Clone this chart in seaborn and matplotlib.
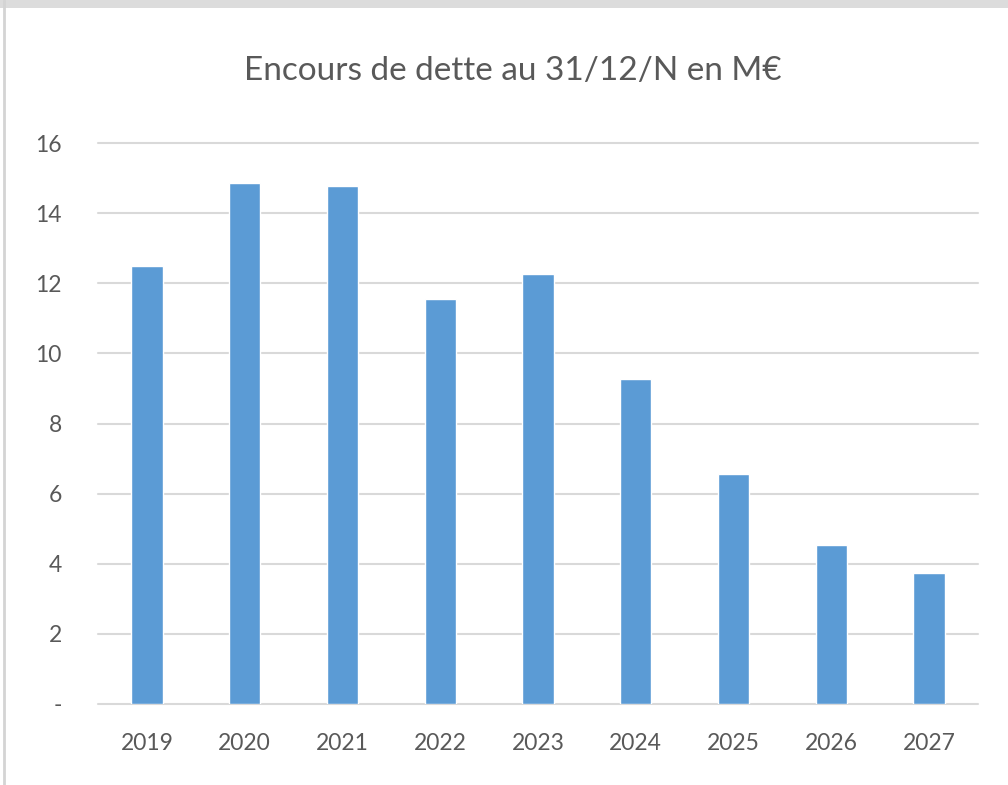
import matplotlib
matplotlib.use("Agg")
import matplotlib.pyplot as plt
import seaborn as sns
import pandas as pd
from matplotlib.patches import Rectangle
from matplotlib.lines import Line2D
from matplotlib.ticker import FuncFormatter

years = ["2019", "2020", "2021", "2022", "2023", "2024", "2025", "2026", "2027"]
encours = [12.49, 14.86, 14.77, 11.55, 12.26, 9.27, 6.56, 4.53, 3.74]
yticks = [0, 2, 4, 6, 8, 10, 12, 14, 16]
title = "Encours de dette au 31/12/N en M€"

sns.set_theme(style="white")
plt.rcParams['font.family'] = ['Lato', 'DejaVu Sans']

df = pd.DataFrame({"year": years, "value": encours})

fig = plt.figure(figsize=(10.08, 7.85), dpi=100, facecolor="white")
ax = fig.add_axes([98/1008, 1 - 704/785, (978-98)/1008, (704-143)/785])

sns.barplot(data=df, x="year", y="value", color="#5B9BD5", saturation=1,
            width=0.32, ax=ax, zorder=3)

ax.set_ylim(0, 16)
ax.set_yticks(yticks)
ax.yaxis.set_major_formatter(FuncFormatter(lambda v, p: "-" if v == 0 else f"{int(v)}"))
ax.grid(axis="y", color="#d9d9d9", lw=1.5, zorder=0)
for gl in ax.get_ygridlines():
    gl.set_clip_on(False)
ax.set_axisbelow(True)
for s in ax.spines.values():
    s.set_visible(False)
ax.set_xlabel("")
ax.set_ylabel("")
ax.tick_params(axis="y", length=0, pad=26, labelsize=16.5, labelcolor="#595959")
ax.tick_params(axis="x", length=0, pad=21, labelsize=16.5, labelcolor="#595959")

fig.text(0.509, 1 - 71/785, title, ha="center", va="center", fontsize=24, color="#595959")

# chart border
fig.add_artist(Rectangle((0, 1 - 8/785), 1, 8/785, transform=fig.transFigure,
                         facecolor="#dcdcdc", edgecolor="none"))
fig.add_artist(Line2D([4/1008, 4/1008], [0, 1], transform=fig.transFigure,
                      color="#d4d4d4", lw=2))

fig.savefig("out.png", dpi=100, facecolor="white")
